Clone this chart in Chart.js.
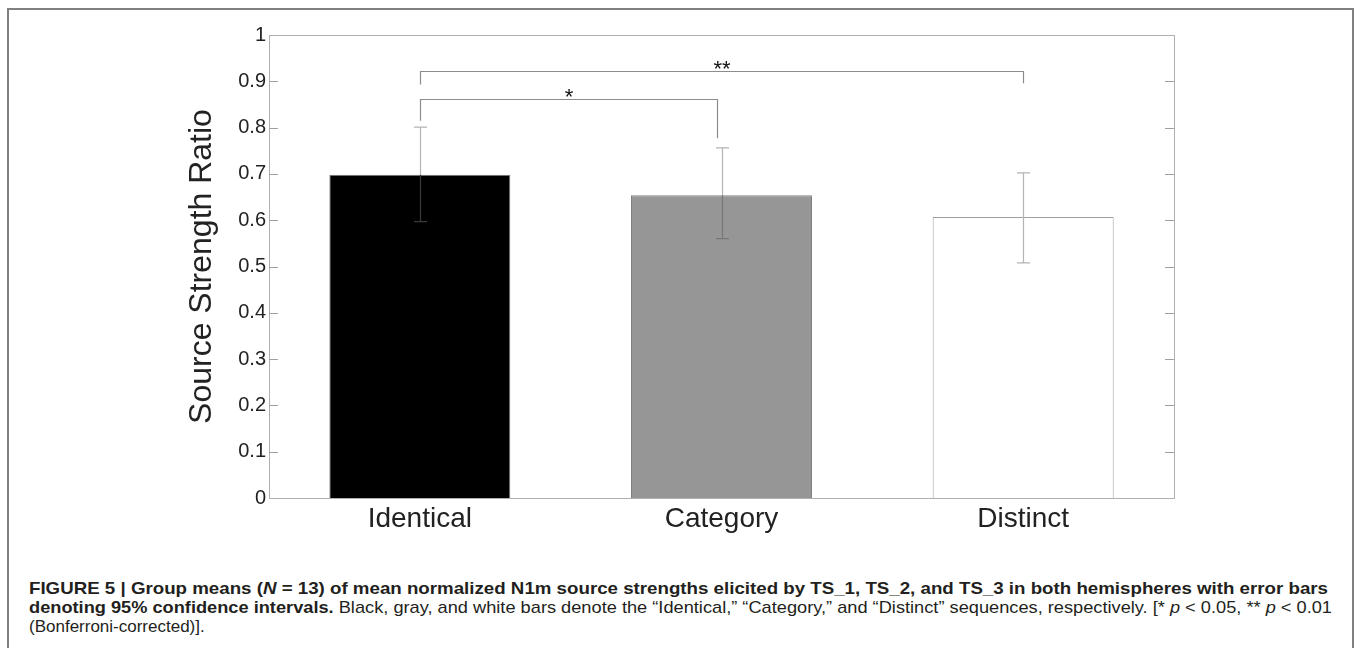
<!DOCTYPE html>
<html>
<head>
<meta charset="utf-8">
<script src="https://cdn.jsdelivr.net/npm/chart.js@4/dist/chart.umd.min.js"></script>
<style>
  html, body { margin: 0; padding: 0; background: #fff; }
  body { width: 1358px; height: 648px; position: relative; overflow: hidden; font-family: "Liberation Sans", Arial, sans-serif; }
  #frame { position: absolute; left: 7px; top: 8px; width: 1347px; height: 700px; border: 2px solid #808080; box-sizing: border-box; }
  #wrap { position: absolute; left: 0; top: 0; width: 1358px; height: 545px; }
  #caption { position: absolute; left: 29px; top: 579px; font-size: 17px; line-height: 19px; color: #231f20; white-space: nowrap; }
  #caption .line { display: block; transform-origin: 0 0; }
  #caption b { font-weight: bold; }
</style>
</head>
<body>
<div id="frame"></div>
<div id="wrap"><canvas id="c" width="1358" height="545"></canvas></div>
<div id="caption">
  <span class="line" data-w="1299"><b>FIGURE 5 | Group means (<i>N</i> = 13) of mean normalized N1m source strengths elicited by TS_1, TS_2, and TS_3 in both hemispheres with error bars</b></span>
  <span class="line" data-w="1303"><b>denoting 95% confidence intervals.</b> Black, gray, and white bars denote the “Identical,” “Category,” and “Distinct” sequences, respectively. [* <i>p</i> &lt; 0.05, ** <i>p</i> &lt; 0.01</span>
  <span class="line">(Bonferroni-corrected)].</span>
</div>
<script>
// ---- data ----
const categories = ['Identical', 'Category', 'Distinct'];
const means = [0.698, 0.654, 0.607];
const ciLower = [0.597, 0.560, 0.508];
const ciUpper = [0.801, 0.756, 0.702];
const yTickLabels = ['0', '0.1', '0.2', '0.3', '0.4', '0.5', '0.6', '0.7', '0.8', '0.9', '1'];
const barColors = ['#000000', '#969696', '#ffffff'];
const barBorders = ['#7a7a7a', '#808080', '#a0a0a0'];
const errInnerColors = ['#3a3a3a', '#777777', '#b4b4b4'];
// significance brackets (category positions, y levels)
const sigFrom = [0, 0];
const sigTo = [0.985, 2];
const sigLevel = [0.861, 0.922];
const sigFromDrop = [0.815, 0.893];
const sigToDrop = [0.777, 0.896];
const sigLabels = ['*', '**'];

const axisGray = '#b0b0b0';

const decorPlugin = {
  id: 'decor',
  afterDatasetsDraw(chart) {
    const ctx = chart.ctx;
    const xs = chart.scales.x, ys = chart.scales.y;
    ctx.save();
    // error bars
    for (let i = 0; i < categories.length; i++) {
      const x = Math.round(xs.getPixelForValue(i)) + 0.5;
      const yTop = ys.getPixelForValue(ciUpper[i]);
      const yLow = ys.getPixelForValue(ciLower[i]);
      const yMean = ys.getPixelForValue(means[i]);
      const cap = 6.5;
      ctx.lineWidth = 1.2;
      ctx.strokeStyle = '#b4b4b4';
      ctx.beginPath();
      ctx.moveTo(x, yTop); ctx.lineTo(x, yMean);
      ctx.moveTo(x - cap, yTop); ctx.lineTo(x + cap, yTop);
      ctx.stroke();
      ctx.strokeStyle = errInnerColors[i];
      ctx.beginPath();
      ctx.moveTo(x, yMean); ctx.lineTo(x, yLow);
      ctx.moveTo(x - cap, yLow); ctx.lineTo(x + cap, yLow);
      ctx.stroke();
    }
    // significance brackets
    ctx.strokeStyle = '#8c8c8c';
    ctx.lineWidth = 1.2;
    ctx.fillStyle = '#111';
    ctx.font = '22px "Liberation Sans", Arial, sans-serif';
    ctx.textAlign = 'center';
    ctx.textBaseline = 'alphabetic';
    for (let k = 0; k < sigLabels.length; k++) {
      const x1 = Math.round(xs.getPixelForValue(sigFrom[k])) + 0.5;
      const x2 = Math.round(xs.getPixelForValue(sigTo[k])) + 0.5;
      const yl = Math.round(ys.getPixelForValue(sigLevel[k])) + 0.5;
      ctx.beginPath();
      ctx.moveTo(x1, ys.getPixelForValue(sigFromDrop[k]));
      ctx.lineTo(x1, yl);
      ctx.lineTo(x2, yl);
      ctx.lineTo(x2, ys.getPixelForValue(sigToDrop[k]));
      ctx.stroke();
      ctx.fillText(sigLabels[k], (x1 + x2) / 2, yl + 4);
    }
    ctx.restore();
  },
  afterDraw(chart) {
    const ctx = chart.ctx;
    const a = chart.chartArea;
    const ys = chart.scales.y;
    ctx.save();
    ctx.strokeStyle = axisGray;
    ctx.lineWidth = 1;
    ctx.strokeRect(Math.round(a.left) + 0.5, Math.round(a.top) + 0.5, Math.round(a.right - a.left), Math.round(a.bottom - a.top));
    ctx.strokeStyle = '#a0a0a0';
    ctx.beginPath();
    for (let i = 1; i < yTickLabels.length - 1; i++) {
      const y = Math.round(ys.getPixelForValue(Number(yTickLabels[i]))) + 0.5;
      ctx.moveTo(a.left, y); ctx.lineTo(a.left + 9, y);
      ctx.moveTo(a.right, y); ctx.lineTo(a.right - 9, y);
    }
    ctx.stroke();
    ctx.restore();
  }
};

new Chart(document.getElementById('c'), {
  type: 'bar',
  data: {
    labels: categories,
    datasets: [{
      data: means,
      backgroundColor: barColors,
      borderColor: barBorders,
      borderWidth: 1,
      barPercentage: 0.6,
      categoryPercentage: 1.0
    }]
  },
  options: {
    responsive: false,
    devicePixelRatio: 1,
    animation: false,
    events: [],
    layout: { padding: { left: 183, top: 35, right: 184, bottom: 0 } },
    plugins: { legend: { display: false }, tooltip: { enabled: false } },
    scales: {
      x: {
        grid: { display: false, drawTicks: false },
        border: { display: true, color: axisGray },
        ticks: {
          color: '#222',
          padding: 4,
          font: { family: '"Liberation Sans", Arial, sans-serif', size: 28 }
        },
        afterFit(s) { s.height = 47; }
      },
      y: {
        min: 0,
        max: 1,
        grid: { display: false, drawTicks: false },
        border: { display: true, color: axisGray },
        ticks: {
          stepSize: 0.1,
          color: '#222',
          padding: 3,
          font: { family: '"Liberation Sans", Arial, sans-serif', size: 20 },
          callback: (v, i) => yTickLabels[i]
        },
        title: {
          display: true,
          text: 'Source Strength Ratio',
          color: '#222',
          padding: 0,
          font: { family: '"Liberation Sans", Arial, sans-serif', size: 32 }
        },
        afterFit(s) { s.width = 86; }
      }
    }
  },
  plugins: [decorPlugin]
});

// fit caption lines to their measured widths in the reference
document.querySelectorAll('#caption .line[data-w]').forEach(el => {
  const target = Number(el.dataset.w);
  el.style.display = 'inline-block';
  const w = el.getBoundingClientRect().width;
  el.style.display = 'block';
  if (w > 0) el.style.transform = 'scaleX(' + (target / w) + ')';
});
</script>
</body>
</html>
